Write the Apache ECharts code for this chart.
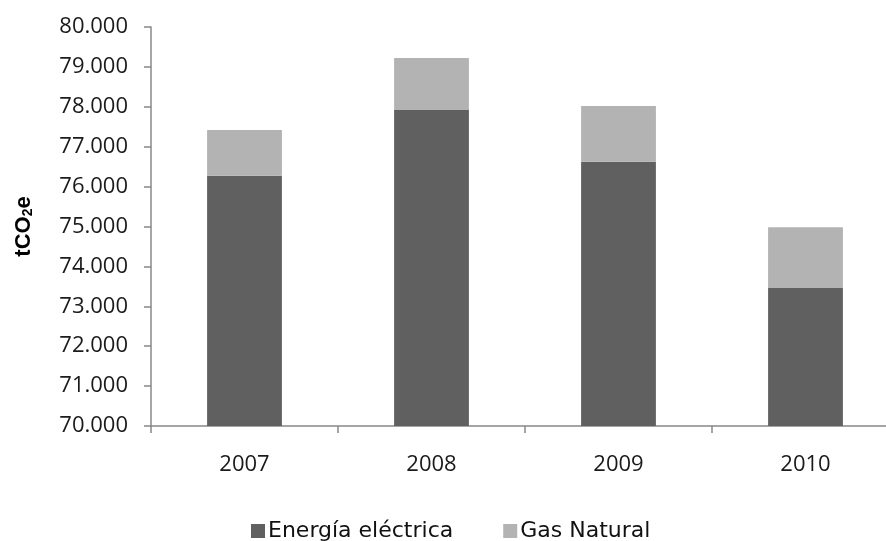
<!DOCTYPE html>
<html>
<head>
<meta charset="utf-8">
<script src="https://cdn.jsdelivr.net/npm/echarts@6/dist/echarts.min.js"></script>
<style>html,body{margin:0;padding:0;background:#fff;overflow:hidden;width:886px;height:541px;}#c{width:900px;height:541px;}</style>
</head>
<body>
<div id="c"></div>
<script>
const categories = ['2007', '2008', '2009', '2010'];
const seriesNames = ['Energía eléctrica', 'Gas Natural'];
const electricidad = [76270, 77920, 76620, 73460];
const gasNatural = [1150, 1300, 1400, 1520];
const yTicks = [70000, 71000, 72000, 73000, 74000, 75000, 76000, 77000, 78000, 79000, 80000];

function fmt(v) {
  const s = String(Math.round(v));
  return s.replace(/\B(?=(\d{3})+(?!\d))/g, '.');
}

const chart = echarts.init(document.getElementById('c'), null, {renderer: 'canvas'});
chart.setOption({
  animation: false,
  backgroundColor: '#ffffff',
  grid: {left: 151, top: 27, bottom: 115, right: 1, containLabel: false},
  legend: {
    data: seriesNames,
    left: 246,
    top: 515,
    itemWidth: 14,
    itemHeight: 14,
    itemGap: 50,
    icon: 'rect',
    textStyle: {fontFamily: 'DejaVu Sans', fontSize: 22, color: '#111', padding: [0, 0, 0, -2]}
  },
  xAxis: {
    type: 'category',
    data: categories,
    axisLine: {lineStyle: {color: '#888888', width: 1.5}},
    axisTick: {show: true, length: 7, lineStyle: {color: '#888888', width: 1.5}},
    axisLabel: {fontFamily: 'Open Sans', fontSize: 22, color: '#1a1a1a', margin: 28}
  },
  yAxis: {
    type: 'value',
    min: yTicks[0],
    max: yTicks[yTicks.length - 1],
    interval: 1000,
    name: 'tCO{sub|2}e',
    nameLocation: 'middle',
    nameRotate: 90,
    nameGap: 116,
    nameTextStyle: {
      fontFamily: 'Liberation Sans', fontSize: 22, fontWeight: 'bold', color: '#000',
      rich: {sub: {fontFamily: 'Liberation Sans', fontSize: 14, fontWeight: 'bold', verticalAlign: 'bottom', padding: [9, 0, 0, 0], color: '#000'}}
    },
    splitLine: {show: false},
    axisLine: {show: true, lineStyle: {color: '#888888', width: 1.5}},
    axisTick: {show: true, length: 7, lineStyle: {color: '#888888', width: 1.5}},
    axisLabel: {fontFamily: 'Open Sans', fontSize: 22, color: '#1a1a1a', margin: 23, formatter: fmt}
  },
  series: [
    {
      name: seriesNames[0], type: 'bar', stack: 'total', data: electricidad,
      barCategoryGap: '60%',
      itemStyle: {color: '#606060'}
    },
    {
      name: seriesNames[1], type: 'bar', stack: 'total', data: gasNatural,
      barCategoryGap: '60%',
      itemStyle: {color: '#b3b3b3'}
    }
  ]
});
</script>
</body>
</html>
